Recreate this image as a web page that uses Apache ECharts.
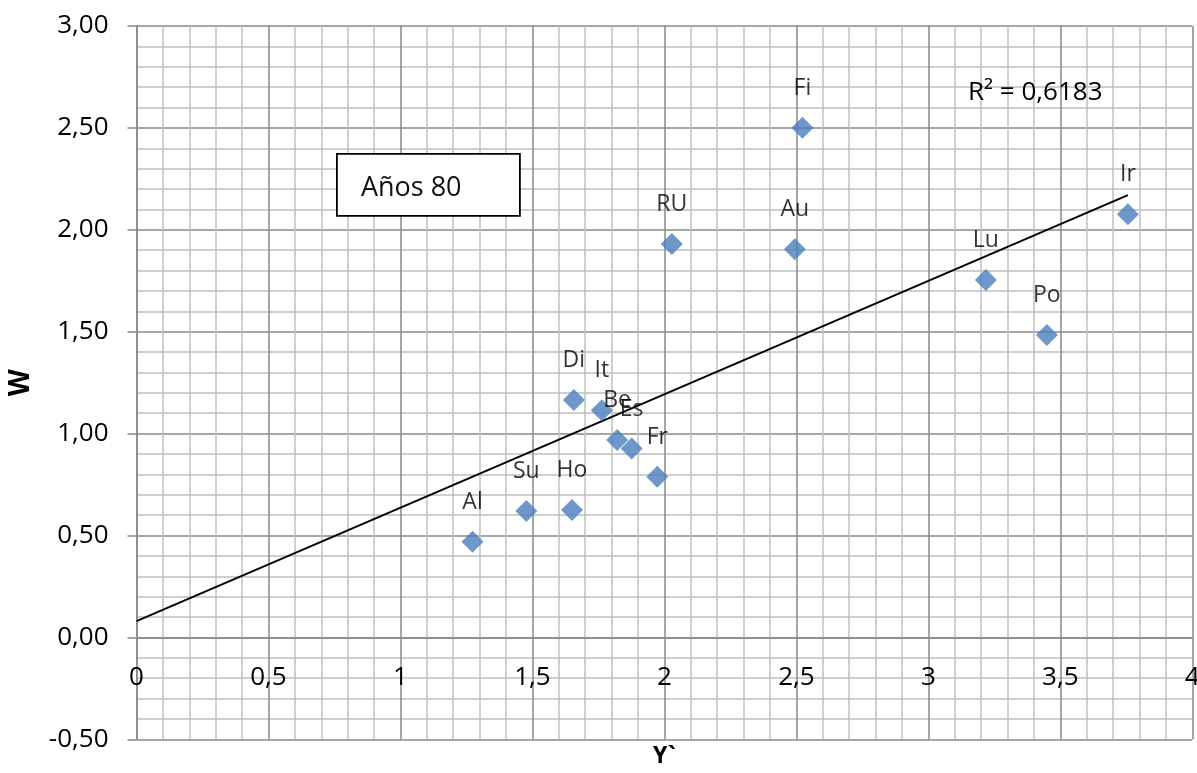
<!DOCTYPE html>
<html>
<head>
<meta charset="utf-8">
<script src="https://cdn.jsdelivr.net/npm/echarts@6/dist/echarts.min.js"></script>
<style>
  html, body { margin: 0; padding: 0; background: #fff; }
  #chart { width: 1197px; height: 773px; }
</style>
</head>
<body>
<div id="chart"></div>
<script>
// Country codes and their (Y`, W) pairs for the 1980s
const countries = ['Al', 'Su', 'Ho', 'Di', 'It', 'Be', 'Es', 'Fr', 'RU', 'Au', 'Fi', 'Lu', 'Po', 'Ir'];
const yPrime   = [1.273, 1.477, 1.650, 1.657, 1.763, 1.821, 1.876, 1.973, 2.028, 2.494, 2.523, 3.218, 3.449, 3.756];
const wValues  = [0.469, 0.620, 0.625, 1.165, 1.114, 0.968, 0.927, 0.788, 1.930, 1.905, 2.501, 1.754, 1.484, 2.076];

// Linear trend line end points
const trendX = [0, 3.756];
const trendW = [0.08, 2.17];

const rSquaredText = 'R² = 0,6183';
const periodText = 'Años 80';

const FONT = '"Open Sans", "DejaVu Sans", sans-serif';
const MAJOR = '#888888';
const MINOR = '#c0c0c0';

const points = countries.map((c, i) => ({ name: c, value: [yPrime[i], wValues[i]] }));
const trend = trendX.map((x, i) => [x, trendW[i]]);

const chart = echarts.init(document.getElementById('chart'), null, { renderer: 'canvas' });

chart.setOption({
  animation: false,
  backgroundColor: '#ffffff',
  grid: { left: 136.5, right: 4.7, top: 26, bottom: 33.7, containLabel: false, outerBoundsMode: 'none' },
  xAxis: {
    type: 'value',
    min: 0, max: 4, interval: 0.5,
    name: 'Y`',
    nameLocation: 'middle',
    nameGap: 6,
    nameTextStyle: { fontFamily: FONT, fontSize: 23, fontWeight: 'bold', color: '#000' },
    axisLine: { show: true, lineStyle: { color: MAJOR, width: 1.5 } },
    axisTick: { show: false },
    // tick values sit just under the W = 0 line
    axisLabel: {
      margin: -75, fontFamily: FONT, fontSize: 26, color: '#000',
      formatter: v => String(v).replace('.', ',')
    },
    splitLine: { show: true, lineStyle: { color: MAJOR, width: 1.5 } },
    minorTick: { show: false, splitNumber: 5 },
    minorSplitLine: { show: true, lineStyle: { color: MINOR, width: 1.5 } }
  },
  yAxis: {
    type: 'value',
    min: -0.5, max: 3, interval: 0.5,
    name: 'W',
    nameLocation: 'middle',
    nameGap: 101,
    nameTextStyle: { fontFamily: FONT, fontSize: 28, fontWeight: 'bold', color: '#000' },
    axisLine: { show: true, onZero: false, lineStyle: { color: MAJOR, width: 1.5 } },
    axisTick: { show: true, length: 9, lineStyle: { color: MAJOR, width: 1.5 } },
    axisLabel: {
      margin: 28, fontFamily: FONT, fontSize: 26, color: '#000',
      formatter: v => v.toFixed(2).replace('.', ',')
    },
    splitLine: { show: true, lineStyle: { color: MAJOR, width: 1.5 } },
    minorTick: { show: false, splitNumber: 5 },
    minorSplitLine: { show: true, lineStyle: { color: MINOR, width: 1.5 } }
  },
  series: [
    {
      type: 'line',
      data: trend,
      symbol: 'none',
      lineStyle: { color: '#000', width: 2 },
      z: 3
    },
    {
      type: 'scatter',
      data: points,
      symbol: 'diamond',
      symbolSize: 22,
      itemStyle: { color: '#4A7EBB' },
      label: {
        show: true,
        position: 'top',
        distance: 17,
        formatter: p => p.name,
        fontFamily: FONT, fontSize: 23, color: '#000'
      },
      z: 4
    }
  ],
  graphic: [
    {
      type: 'group',
      left: 336, top: 153,
      z: 100,
      children: [
        {
          type: 'rect',
          z: 100,
          shape: { x: 0, y: 0, width: 183, height: 62 },
          style: { fill: '#fff', stroke: '#000', lineWidth: 1.8 }
        },
        {
          type: 'text',
          z: 101,
          x: 24, y: 34,
          style: { text: periodText, font: '27px ' + FONT, fill: '#111', textVerticalAlign: 'middle' }
        }
      ]
    },
    {
      type: 'text',
      z: 100,
      left: 968, top: 80,
      style: { text: rSquaredText, font: '26px ' + FONT, fill: '#000' }
    }
  ]
});
</script>
</body>
</html>
